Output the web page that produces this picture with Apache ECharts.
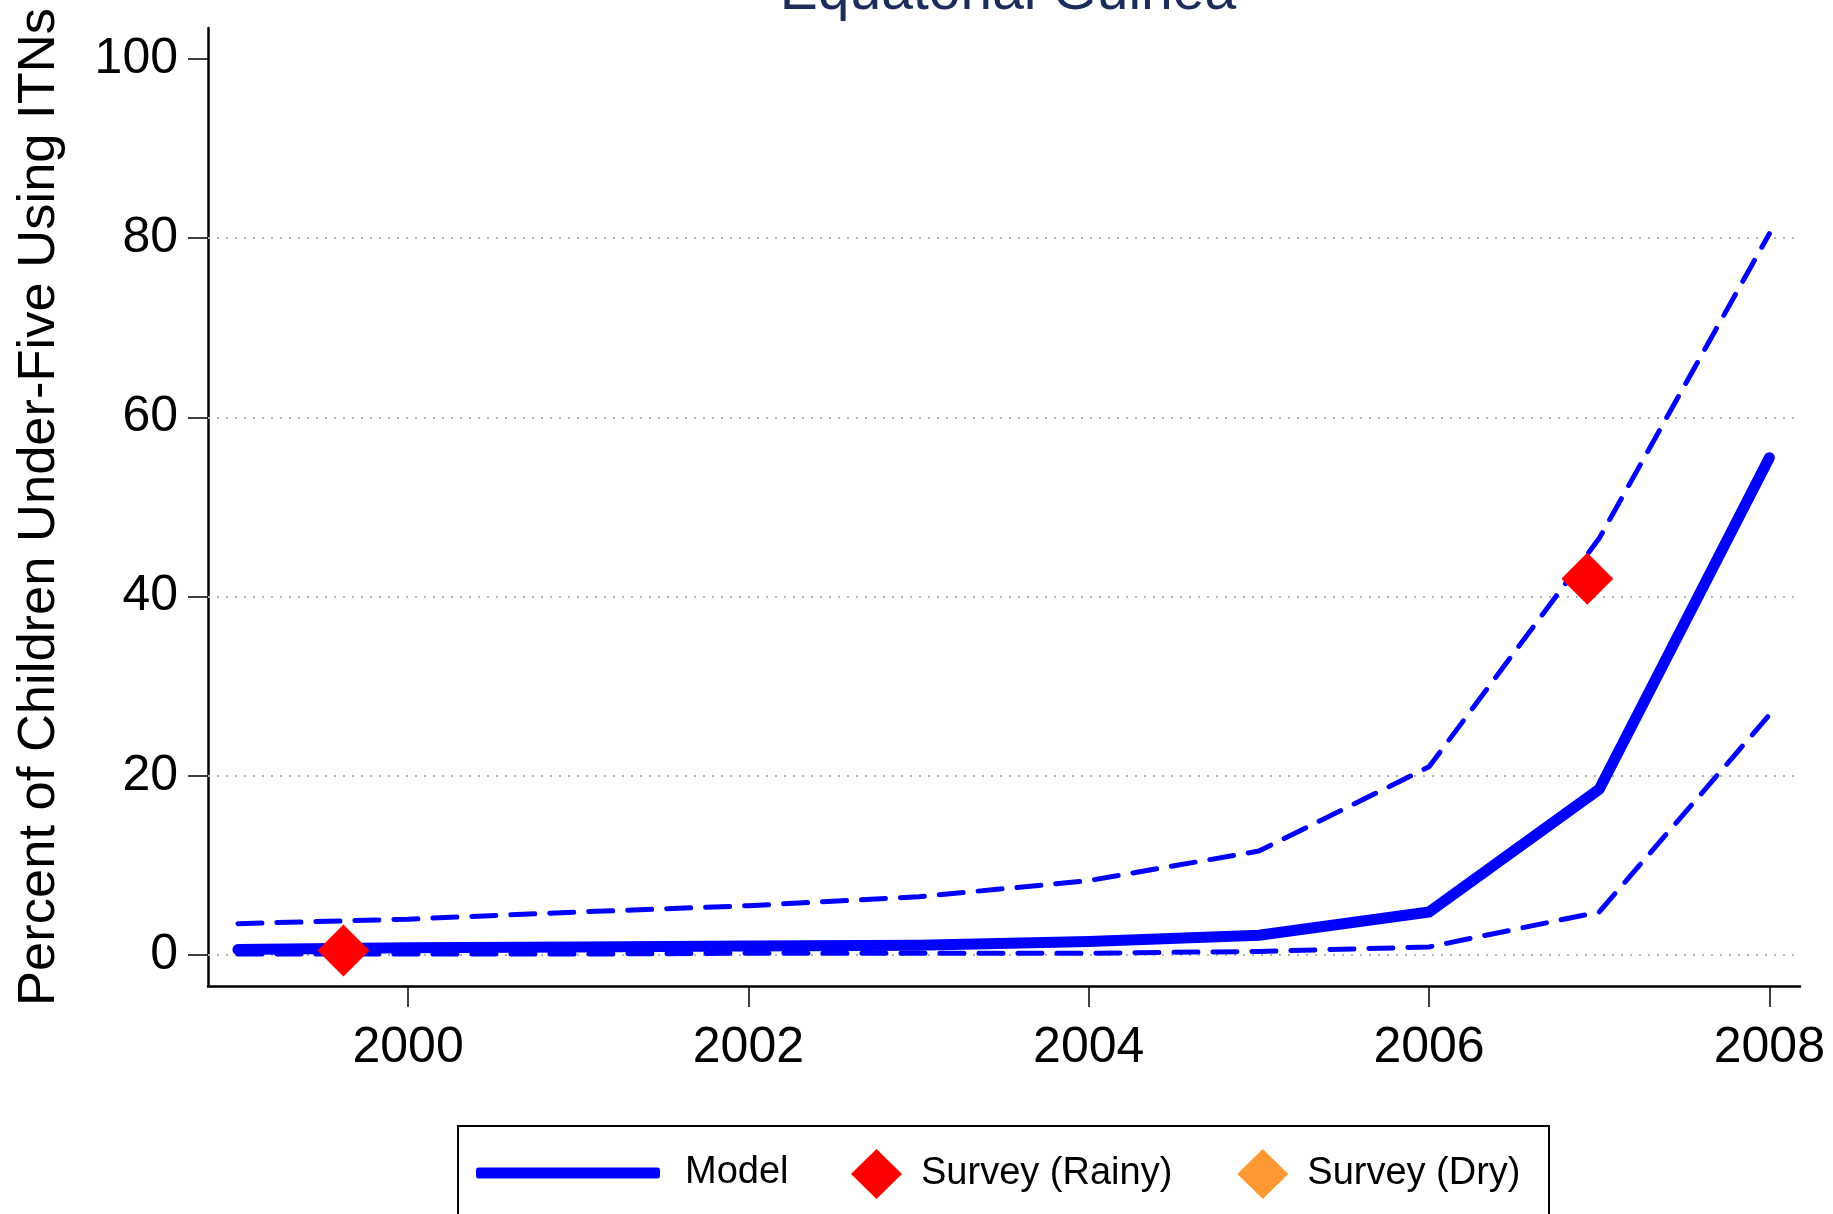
<!DOCTYPE html>
<html>
<head>
<meta charset="utf-8">
<title>Equatorial Guinea</title>
<script src="https://cdn.jsdelivr.net/npm/echarts@6/dist/echarts.min.js"></script>
<style>
  html, body { margin: 0; padding: 0; background: #fff; }
  #chart { width: 1833px; height: 1214px; }
</style>
</head>
<body>
<div id="chart"></div>
<script>
// data
const years = [1999, 2000, 2001, 2002, 2003, 2004, 2005, 2006, 2007, 2008];
const modelVals = [0.6, 0.8, 0.9, 1.0, 1.1, 1.5, 2.2, 4.8, 18.5, 55.5];
const upperVals = [3.5, 4.0, 4.8, 5.5, 6.5, 8.3, 11.6, 21.0, 46.5, 80.5];
const lowerVals = [0.1, 0.1, 0.1, 0.2, 0.2, 0.2, 0.4, 0.9, 4.8, 26.8];
const rainyYears = [1999.62, 2006.93];
const rainyVals = [0.5, 42.0];
const dryYears = [];
const dryVals = [];
const xTicks = [2000, 2002, 2004, 2006, 2008];
const yTicks = [0, 20, 40, 60, 80, 100];
const yGrid = [0, 20, 40, 60, 80];

const font = '"Liberation Sans", Arial, sans-serif';
const blue = '#0000ff';

const toPairs = (xs, ys) => xs.map((x, i) => [x, ys[i]]);

const myChart = echarts.init(document.getElementById('chart'));

const dashStyle = {
	color: blue,
	width: 5,
	type: [24, 15],
	cap: 'round',
};

const option = {
	animation: false,
	backgroundColor: '#ffffff',
	title: {
		text: 'Equatorial Guinea',
		left: 1003,
		textAlign: 'center',
		top: -40,
		textStyle: {
			fontFamily: font,
			fontSize: 57,
			fontWeight: 'normal',
			color: '#1c2d5c',
		},
	},
	grid: {
		left: 208,
		right: 33,
		top: 28,
		bottom: 228,
	},
	xAxis: {
		type: 'value',
		min: 1998.824,
		max: 2008.18,
		axisLine: { onZero: false, lineStyle: { color: '#000', width: 2.5 } },
		axisTick: {
			customValues: xTicks,
			length: 21,
			lineStyle: { color: '#000', width: 1.5 },
		},
		axisLabel: {
			customValues: xTicks,
			formatter: (v) => String(v),
			margin: 37,
			fontFamily: font,
			fontSize: 50,
			color: '#000',
		},
		splitLine: { show: false },
	},
	yAxis: {
		type: 'value',
		min: -3.46,
		max: 103.46,
		name: 'Percent of Children Under-Five Using ITNs',
		nameLocation: 'middle',
		nameGap: 142,
		nameTextStyle: {
			fontFamily: font,
			fontSize: 52.5,
			color: '#000',
		},
		axisLine: { show: true, onZero: false, lineStyle: { color: '#000', width: 2.5 } },
		axisTick: {
			show: true,
			customValues: yTicks,
			length: 20,
			lineStyle: { color: '#000', width: 1.5 },
		},
		axisLabel: {
			customValues: yTicks,
			margin: 30,
			fontFamily: font,
			fontSize: 50,
			color: '#000',
		},
		splitLine: { show: false },
	},
	legend: [
		{
			data: ['Model'],
			left: 476,
			top: 1154,
			padding: 0,
			icon: 'roundRect',
			itemWidth: 184,
			itemHeight: 11,
			textStyle: {
				fontFamily: font,
				fontSize: 38,
				color: '#000',
				padding: [0, 0, 0, 20],
			},
		},
		{
			data: ['Survey (Rainy)', 'Survey (Dry)'],
			left: 851,
			top: 1149,
			padding: 0,
			icon: 'diamond',
			itemWidth: 51,
			itemHeight: 50,
			itemGap: 65,
			itemStyle: { opacity: 1 },
			textStyle: {
				fontFamily: font,
				fontSize: 38,
				color: '#000',
				padding: [0, 0, 0, 14],
			},
		},
	],
	graphic: [
		{
			type: 'rect',
			shape: { x: 458, y: 1126, width: 1091, height: 120 },
			style: { fill: 'none', stroke: '#000', lineWidth: 2 },
			z: 10,
		},
	],
	series: [
		{
			name: 'Upper',
			type: 'line',
			data: toPairs(years, upperVals),
			showSymbol: false,
			lineStyle: dashStyle,
			itemStyle: { color: blue },
			z: 2,
		},
		{
			name: 'Lower',
			type: 'line',
			data: toPairs(years, lowerVals),
			showSymbol: false,
			lineStyle: dashStyle,
			itemStyle: { color: blue },
			z: 2,
		},
		{
			name: 'Model',
			type: 'line',
			data: toPairs(years, modelVals),
			showSymbol: false,
			lineStyle: { color: blue, width: 11, cap: 'round', join: 'round' },
			itemStyle: { color: blue },
			z: 3,
			markLine: {
				silent: true,
				symbol: 'none',
				label: { show: false },
				lineStyle: { color: '#b4b4b4', width: 2, type: [2, 7] },
				data: yGrid.map((v) => ({ yAxis: v })),
				z: 1,
			},
		},
		{
			name: 'Survey (Rainy)',
			type: 'scatter',
			data: toPairs(rainyYears, rainyVals),
			symbol: 'diamond',
			symbolSize: [52, 52],
			itemStyle: { color: '#ff0000', opacity: 1 },
			z: 5,
		},
		{
			name: 'Survey (Dry)',
			type: 'scatter',
			data: toPairs(dryYears, dryVals),
			symbol: 'diamond',
			symbolSize: [52, 52],
			itemStyle: { color: '#ff9933', opacity: 1 },
			z: 5,
		},
	],
};

myChart.setOption(option);
window.onresize = function () {
	myChart.resize();
};
</script>
</body>
</html>
